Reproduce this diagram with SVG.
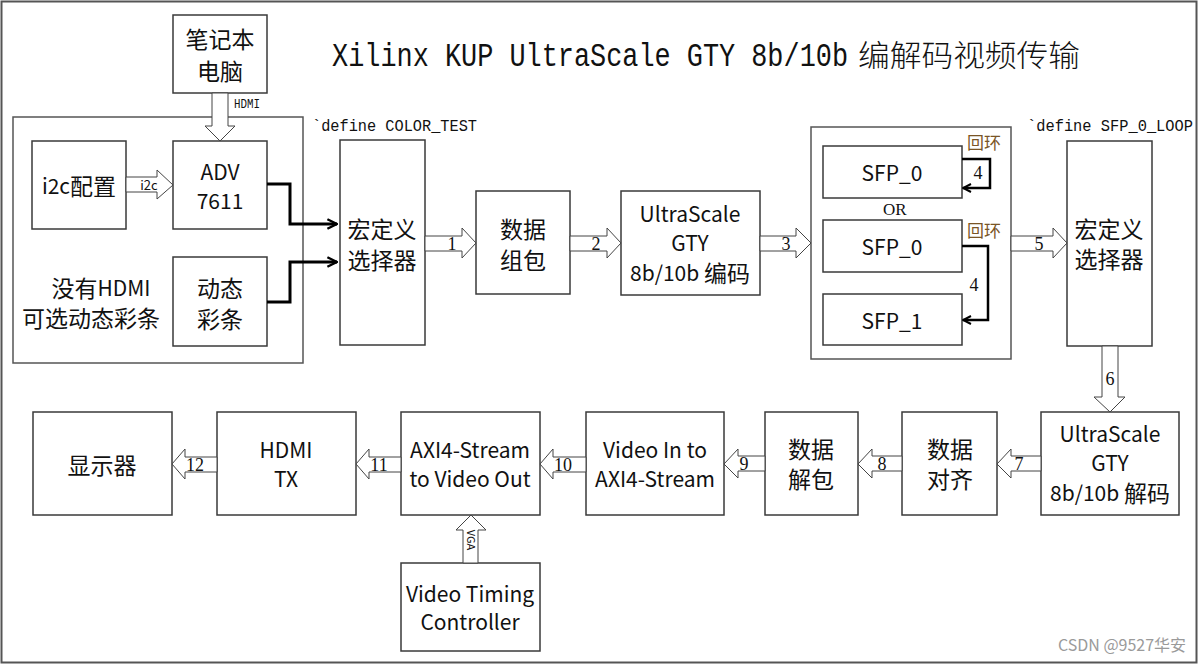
<svg xmlns="http://www.w3.org/2000/svg" width="1204" height="665" viewBox="0 0 1204 665">
<defs>
<style>
.box{fill:#fff;stroke:#3a3a3a;stroke-width:1.5}
.cont{fill:none;stroke:#555;stroke-width:1.5}
.t{font-family:"Noto Sans CJK SC","Noto Sans",sans-serif;font-size:21px;fill:#111;text-anchor:middle;dominant-baseline:central}
.c{font-size:23px}
.ba{fill:#fff;stroke:#444;stroke-width:1}
.num{font-family:"Liberation Serif",serif;font-size:18px;fill:#111;text-anchor:middle}
.mono{font-family:"Liberation Mono","Noto Sans CJK SC",monospace;fill:#111}
.thick{fill:none;stroke:#000;stroke-width:3}
.loop{fill:none;stroke:#000;stroke-width:2.5}
</style>
<marker id="chev" viewBox="0 0 10 10" refX="9" refY="5" markerWidth="4" markerHeight="4" orient="auto" markerUnits="strokeWidth">
<path d="M1,1 L9,5 L1,9" fill="none" stroke="#000" stroke-width="2"/>
</marker>
</defs>
<rect x="1.5" y="1.5" width="1195" height="661" fill="#fff" stroke="#555" stroke-width="2"/>

<text x="332" y="66" class="mono"><tspan font-size="33" textLength="516" lengthAdjust="spacingAndGlyphs">Xilinx KUP UltraScale GTY 8b/10b</tspan><tspan x="858" font-family="Noto Sans CJK SC,sans-serif" font-size="30" font-weight="300" textLength="222" lengthAdjust="spacingAndGlyphs">编解码视频传输</tspan></text>

<g id="containers">
<rect class="cont" x="13" y="117" width="290" height="246"/>
<rect class="cont" x="811" y="127" width="200" height="232"/>
</g>

<g id="n-laptop"><rect class="box" x="173" y="15" width="94" height="78"/><text class="t c" x="220" y="38">笔记本</text><text class="t c" x="220" y="70">电脑</text></g>
<g id="n-i2c"><rect class="box" x="32" y="141" width="94" height="88"/><text class="t" x="79" y="185">i2c<tspan font-size="23">配置</tspan></text></g>
<g id="n-adv"><rect class="box" x="173" y="141" width="94" height="88"/><text class="t" x="220" y="171">ADV</text><text class="t" x="220" y="200">7611</text></g>
<g id="n-colorbar"><rect class="box" x="173" y="257" width="94" height="89"/><text class="t c" x="220" y="287">动态</text><text class="t c" x="220" y="318">彩条</text></g>
<g id="n-note"><text class="t" x="101" y="287"><tspan font-size="23">没有</tspan>HDMI</text><text class="t c" x="91" y="317">可选动态彩条</text></g>
<g id="n-sel1"><rect class="box" x="340" y="140" width="85" height="205"/><text class="t c" x="382" y="228">宏定义</text><text class="t c" x="382" y="259">选择器</text></g>
<g id="n-pack"><rect class="box" x="476" y="191" width="94" height="103"/><text class="t c" x="523" y="228">数据</text><text class="t c" x="523" y="259">组包</text></g>
<g id="n-enc"><rect class="box" x="621" y="191" width="139" height="104"/><text class="t" x="690" y="213">UltraScale</text><text class="t" x="690" y="242">GTY</text><text class="t" x="690" y="272">8b/10b <tspan font-size="23">编码</tspan></text></g>
<g id="n-sfp0a"><rect class="box" x="823" y="146" width="139" height="52"/><text class="t" x="892" y="172">SFP_0</text></g>
<g id="n-sfp0b"><rect class="box" x="823" y="220" width="139" height="52"/><text class="t" x="892" y="246">SFP_0</text></g>
<g id="n-sfp1"><rect class="box" x="823" y="294" width="139" height="51"/><text class="t" x="892" y="320">SFP_1</text></g>
<g id="n-sel2"><rect class="box" x="1067" y="141" width="85" height="205"/><text class="t c" x="1109" y="228">宏定义</text><text class="t c" x="1109" y="258">选择器</text></g>
<g id="n-dec"><rect class="box" x="1041" y="412" width="138" height="103"/><text class="t" x="1110" y="433">UltraScale</text><text class="t" x="1110" y="462">GTY</text><text class="t" x="1110" y="492">8b/10b <tspan font-size="23">解码</tspan></text></g>
<g id="n-align"><rect class="box" x="902" y="412" width="95" height="103"/><text class="t c" x="950" y="448">数据</text><text class="t c" x="950" y="478">对齐</text></g>
<g id="n-unpack"><rect class="box" x="765" y="412" width="93" height="103"/><text class="t c" x="811" y="448">数据</text><text class="t c" x="811" y="478">解包</text></g>
<g id="n-vin"><rect class="box" x="586" y="412" width="138" height="103"/><text class="t" x="655" y="449">Video In to</text><text class="t" x="655" y="478">AXI4-Stream</text></g>
<g id="n-vout"><rect class="box" x="401" y="412" width="139" height="103"/><text class="t" x="470" y="449">AXI4-Stream</text><text class="t" x="470" y="478">to Video Out</text></g>
<g id="n-hdmitx"><rect class="box" x="217" y="412" width="139" height="103"/><text class="t" x="286" y="449">HDMI</text><text class="t" x="286" y="478">TX</text></g>
<g id="n-display"><rect class="box" x="33" y="412" width="139" height="103"/><text class="t c" x="102" y="464">显示器</text></g>
<g id="n-vtc"><rect class="box" x="401" y="563" width="139" height="88"/><text class="t" x="470" y="593">Video Timing</text><text class="t" x="470" y="621">Controller</text></g>

<g id="labels">
<text class="mono" x="312" y="131" font-size="17" textLength="165" lengthAdjust="spacingAndGlyphs">`define COLOR_TEST</text>
<text class="mono" x="1027" y="131" font-size="17" textLength="166" lengthAdjust="spacingAndGlyphs">`define SFP_0_LOOP</text>
<text x="883" y="215" font-family="Liberation Serif,serif" font-size="17" fill="#111">OR</text>
<text x="967" y="149" font-family="Noto Sans CJK SC,sans-serif" font-size="17" fill="#7a5526">回环</text>
<text x="967" y="237" font-family="Noto Sans CJK SC,sans-serif" font-size="17" fill="#7a5526">回环</text>
<text class="num" x="978" y="179">4</text>
<text class="num" x="974" y="291">4</text>
<text x="1122" y="651" font-family="Noto Sans CJK SC,sans-serif" font-size="16" fill="#9a9a9a" text-anchor="middle">CSDN @9527华安</text>
</g>

<g id="connectors">
<polygon class="ba" points="212,93 228,93 228,126 235,126 220,141 205,126 212,126"/>
<text class="mono" x="234" y="108" font-size="12" textLength="26" lengthAdjust="spacingAndGlyphs">HDMI</text>
<polygon class="ba" points="126,177 157,177 157,170 173,185 157,199 157,192 126,192"/>
<text x="149" y="190" font-family="Noto Sans CJK SC,sans-serif" font-size="13" fill="#111" text-anchor="middle">i2c</text>
<polyline class="thick" points="267,184 290,184 290,224 337,224" marker-end="url(#chev)"/>
<polyline class="thick" points="267,302 290,302 290,262 337,262" marker-end="url(#chev)"/>

<polygon class="ba" points="425,236 462,236 462,228 476,243 462,258 462,251 425,251"/>
<text class="num" x="452" y="250">1</text>
<polygon class="ba" points="570,236 607,236 607,228 621,243 607,258 607,251 570,251"/>
<text class="num" x="596" y="250">2</text>
<polygon class="ba" points="760,236 796,236 796,228 811,243 796,258 796,251 760,251"/>
<text class="num" x="786" y="250">3</text>
<polygon class="ba" points="1011,236 1053,236 1053,228 1067,243 1053,258 1053,251 1011,251"/>
<text class="num" x="1039" y="250">5</text>

<polyline class="loop" points="962,159 990,159 990,188 963,188" marker-end="url(#chev)"/>
<polyline class="loop" points="962,246 988,246 988,320 963,320" marker-end="url(#chev)"/>

<polygon class="ba" points="1102,346 1118,346 1118,397 1125,397 1110,412 1094,397 1102,397"/>
<text class="num" x="1110" y="385">6</text>

<polygon class="ba" points="1041,456 1011,456 1011,449 997,464 1011,478 1011,471 1041,471"/>
<text class="num" x="1019" y="470">7</text>
<polygon class="ba" points="902,456 872,456 872,449 858,464 872,478 872,471 902,471"/>
<text class="num" x="882" y="470">8</text>
<polygon class="ba" points="765,456 738,456 738,449 724,464 738,478 738,471 765,471"/>
<text class="num" x="744" y="470">9</text>
<polygon class="ba" points="586,457 553,457 553,449 540,464 553,479 553,472 586,472"/>
<text class="num" x="563" y="471">10</text>
<polygon class="ba" points="401,457 369,457 369,449 356,464 369,479 369,472 401,472"/>
<text class="num" x="379" y="471">11</text>
<polygon class="ba" points="217,457 185,457 185,449 172,464 185,479 185,472 217,472"/>
<text class="num" x="195" y="471">12</text>

<polygon class="ba" points="463,563 463,530 456,530 471,515 486,530 478,530 478,563"/>
<text transform="translate(467,540) rotate(90)" font-family="Noto Sans CJK SC,sans-serif" font-size="11" fill="#111" text-anchor="middle">VGA</text>
</g>
</svg>
